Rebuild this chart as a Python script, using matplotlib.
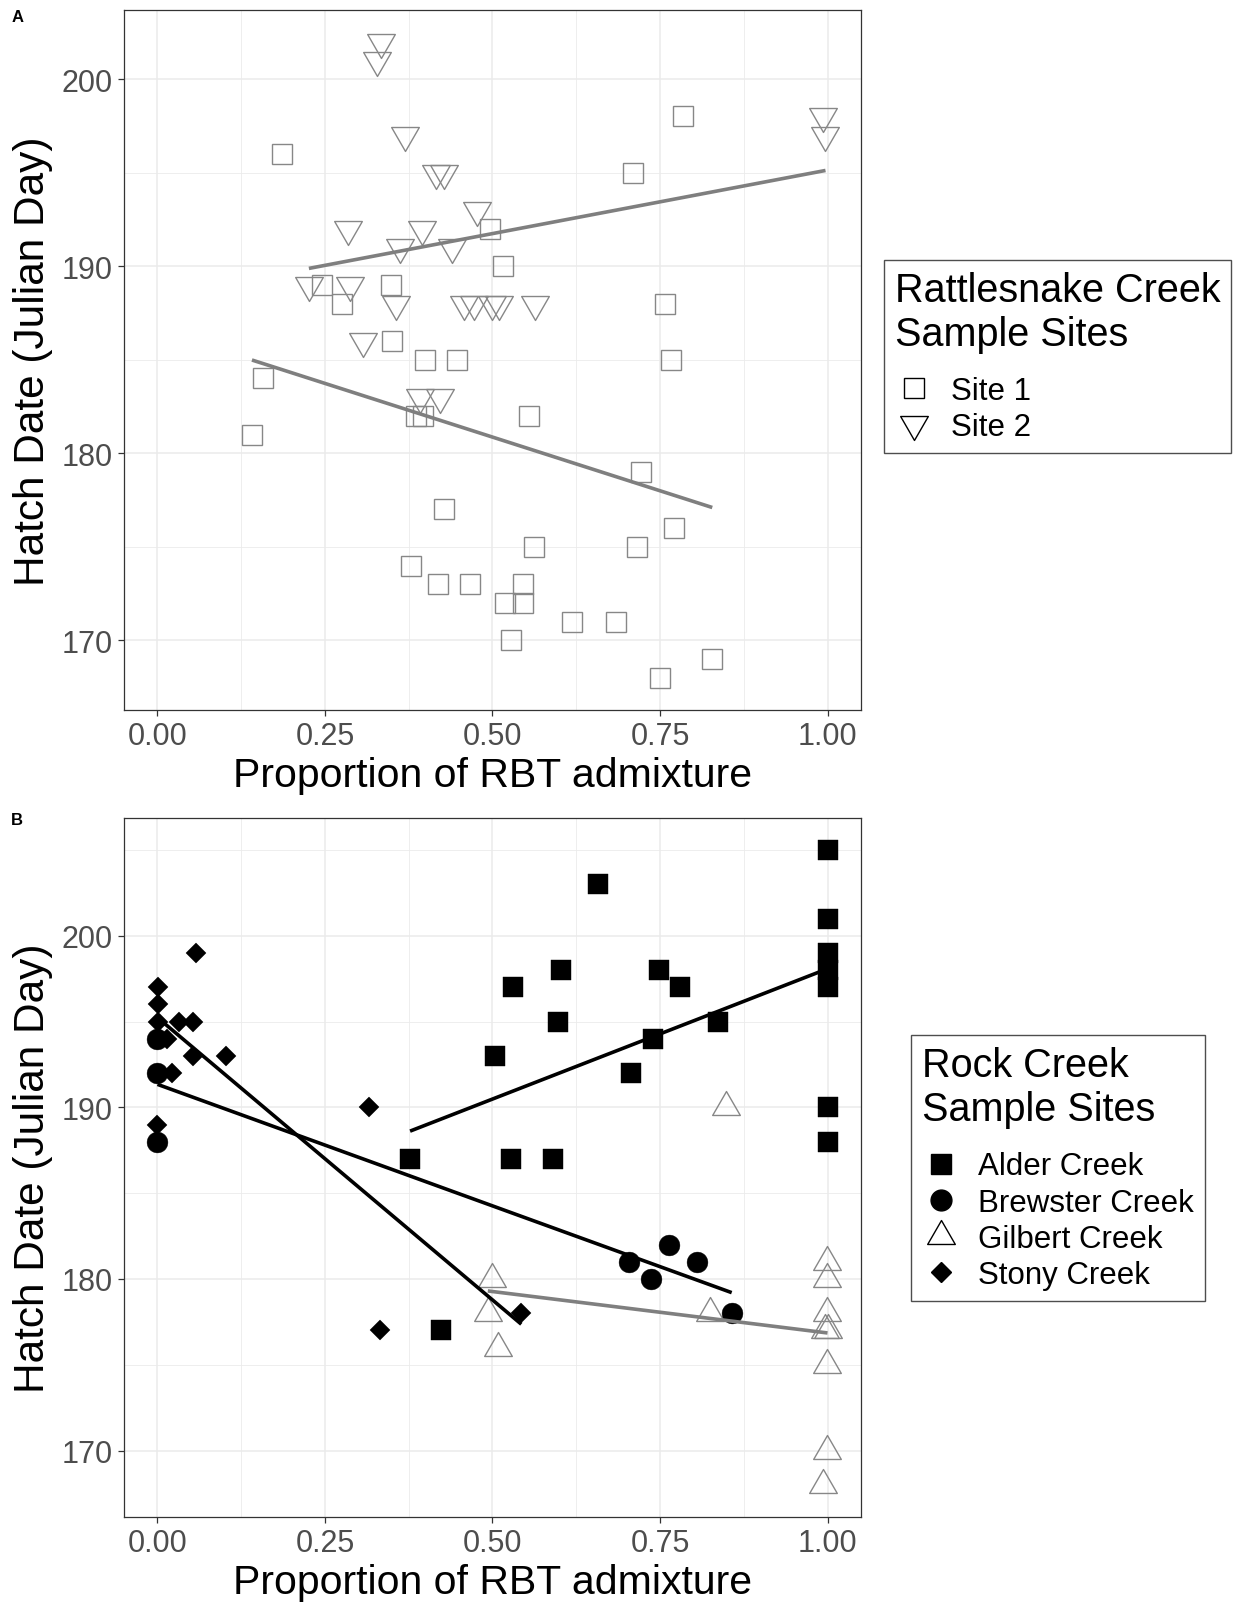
import numpy as np
import matplotlib.pyplot as plt
from matplotlib.path import Path
from matplotlib.lines import Line2D
from matplotlib.ticker import MultipleLocator

plt.rcParams["font.family"] = ["Liberation Sans", "DejaVu Sans"]

# ----- data: panel A (Rattlesnake Creek) -------------------------------------
site1_x = [0.186, 0.246, 0.276, 0.348, 0.350, 0.399, 0.447, 0.496, 0.516, 0.710,
           0.785, 0.757, 0.766, 0.157, 0.141, 0.386, 0.396, 0.428, 0.378, 0.418,
           0.466, 0.518, 0.545, 0.546, 0.528, 0.554, 0.562, 0.618, 0.684, 0.716,
           0.722, 0.771, 0.750, 0.828]
site1_y = [196, 189, 188, 189, 186, 185, 185, 192, 190, 195,
           198, 188, 185, 184, 181, 182, 182, 177, 174, 173,
           173, 172, 172, 173, 170, 182, 175, 171, 171, 175,
           179, 176, 168, 169]

site2_x = [0.334, 0.327, 0.370, 0.416, 0.428, 0.477, 0.284, 0.395, 0.362, 0.440,
           0.226, 0.288, 0.356, 0.458, 0.473, 0.499, 0.510, 0.564, 0.306, 0.392,
           0.421, 0.993, 0.997]
site2_y = [202, 201, 197, 195, 195, 193, 192, 192, 191, 191,
           189, 189, 188, 188, 188, 188, 188, 188, 186, 183,
           183, 198, 197]

# ----- data: panel B (Rock Creek) --------------------------------------------
alder_x = [1.0, 1.0, 1.0, 1.0, 1.0, 1.0, 1.0, 0.657, 0.602, 0.531, 0.749, 0.780,
           0.598, 0.837, 0.740, 0.503, 0.707, 0.528, 0.590, 0.377, 0.423]
alder_y = [205, 201, 199, 198, 197, 190, 188, 203, 198, 197, 198, 197,
           195, 195, 194, 193, 192, 187, 187, 187, 177]

brewster_x = [0.0, 0.0, 0.0, 0.704, 0.763, 0.736, 0.805, 0.857]
brewster_y = [194, 192, 188, 181, 182, 180, 181, 178]

gilbert_x = [0.848, 0.499, 0.493, 0.508, 0.825, 0.999, 0.999, 0.999, 0.997, 1.0,
             0.999, 0.999, 0.994]
gilbert_y = [190, 180, 178, 176, 178, 181, 180, 178, 177, 177, 175, 170, 168]

stony_x = [0.058, 0.001, 0.001, 0.001, 0.032, 0.053, 0.014, 0.053, 0.103, 0.022,
           0.0, 0.315, 0.332, 0.543]
stony_y = [199, 197, 196, 195, 195, 195, 194, 193, 193, 192, 189, 190, 177, 178]

x_ticks = [0.0, 0.25, 0.5, 0.75, 1.0]
x_ticklabels = ["0.00", "0.25", "0.50", "0.75", "1.00"]

# ----- style -----------------------------------------------------------------
GREY_PT = "#878787"
GREY_LN = "#7f7f7f"
GRID = "#ebebeb"
BORDER = "#333333"
TICKTXT = "#4d4d4d"

s3 = np.sqrt(3)
TRI_UP = Path([(0, 2 / s3), (-1, -1 / s3), (1, -1 / s3), (0, 2 / s3)],
              [Path.MOVETO, Path.LINETO, Path.LINETO, Path.CLOSEPOLY])
TRI_DOWN = Path([(0, -2 / s3), (-1, 1 / s3), (1, 1 / s3), (0, -2 / s3)],
                [Path.MOVETO, Path.LINETO, Path.LINETO, Path.CLOSEPOLY])


def fit_line(ax, x, y, color):
    x = np.asarray(x, float); y = np.asarray(y, float)
    b, a = np.polyfit(x, y, 1)
    xs = np.array([x.min(), x.max()])
    ax.plot(xs, a + b * xs, color=color, lw=2.6, zorder=4, solid_capstyle="butt")


def style_axes(ax, ylim, yticks):
    ax.set_xlim(-0.05, 1.05)
    ax.set_ylim(*ylim)
    ax.set_xticks(x_ticks)
    ax.set_xticklabels(x_ticklabels)
    ax.xaxis.set_minor_locator(MultipleLocator(0.125))
    ax.set_yticks(yticks)
    ax.yaxis.set_minor_locator(MultipleLocator(5))
    ax.grid(True, which="major", color=GRID, lw=1.1, zorder=0)
    ax.grid(True, which="minor", color=GRID, lw=0.6, zorder=0)
    ax.set_axisbelow(True)
    for sp in ax.spines.values():
        sp.set_color(BORDER); sp.set_linewidth(0.9)
    ax.tick_params(which="major", length=4, width=0.9, color=BORDER,
                   labelsize=22, labelcolor=TICKTXT, pad=4)
    ax.tick_params(which="minor", length=0)
    ax.set_xlabel("Proportion of RBT admixture", fontsize=29.5, labelpad=4)
    ax.set_ylabel("Hatch Date (Julian Day)", fontsize=30.5, labelpad=6)


def make_legend(handles, labels, title, anchor):
    leg = fig.legend(handles, labels, loc="center left", bbox_to_anchor=anchor,
                     title=title, fontsize=22.5, title_fontsize=28.5, frameon=True,
                     fancybox=False, edgecolor="#222222", alignment="left",
                     handletextpad=0.6, handlelength=1.2, labelspacing=0.2,
                     borderpad=0.35, borderaxespad=0)
    leg.get_frame().set_linewidth(1.0)
    leg._legend_box.sep = 17  # extra gap between title and keys
    return leg


fig = plt.figure(figsize=(12.41, 16.08), dpi=100)
axA = fig.add_axes([0.0999, 0.558, 0.5939, 0.4353])
axB = fig.add_axes([0.0999, 0.0562, 0.5939, 0.4343])

# ----- panel A ---------------------------------------------------------------
axA.plot(site1_x, site1_y, ls="none", marker="s", ms=14.4, mfc="none",
         mec=GREY_PT, mew=1.0, zorder=3)
axA.plot(site2_x, site2_y, ls="none", marker=TRI_DOWN, ms=23, mfc="none",
         mec=GREY_PT, mew=1.0, zorder=3)
fit_line(axA, site1_x, site1_y, GREY_LN)
fit_line(axA, site2_x, site2_y, GREY_LN)
style_axes(axA, (166.3, 203.7), [170, 180, 190, 200])

hA = [Line2D([], [], ls="none", marker="s", ms=14.4, mfc="none", mec="black", mew=1.0),
      Line2D([], [], ls="none", marker=TRI_DOWN, ms=23, mfc="none", mec="black", mew=1.0)]
make_legend(hA, ["Site 1", "Site 2"], "Rattlesnake Creek\nSample Sites", (0.7123, 0.7777))

# ----- panel B ---------------------------------------------------------------
axB.plot(gilbert_x, gilbert_y, ls="none", marker=TRI_UP, ms=23, mfc="none",
         mec=GREY_PT, mew=1.0, zorder=3)
axB.plot(alder_x, alder_y, ls="none", marker="s", ms=14.5, mfc="black",
         mec="black", mew=0.3, zorder=3)
axB.plot(brewster_x, brewster_y, ls="none", marker="o", ms=15, mfc="black",
         mec="black", mew=0.3, zorder=3)
axB.plot(stony_x, stony_y, ls="none", marker="D", ms=10.2, mfc="black",
         mec="black", mew=0.3, zorder=3)
fit_line(axB, alder_x, alder_y, "black")
fit_line(axB, brewster_x, brewster_y, "black")
fit_line(axB, gilbert_x, gilbert_y, GREY_LN)
fit_line(axB, stony_x, stony_y, "black")
style_axes(axB, (166.15, 206.85), [170, 180, 190, 200])

hB = [Line2D([], [], ls="none", marker="s", ms=14.5, mfc="black", mec="black"),
      Line2D([], [], ls="none", marker="o", ms=15, mfc="black", mec="black"),
      Line2D([], [], ls="none", marker=TRI_UP, ms=23, mfc="none", mec="black", mew=1.0),
      Line2D([], [], ls="none", marker="D", ms=10.2, mfc="black", mec="black")]
make_legend(hB, ["Alder Creek", "Brewster Creek", "Gilbert Creek", "Stony Creek"],
            "Rock Creek\nSample Sites", (0.734, 0.273))

fig.text(0.009, 0.989, "A", fontsize=12, fontweight="bold", va="center")
fig.text(0.009, 0.490, "B", fontsize=12, fontweight="bold", va="center")

fig.savefig("out.png", dpi=100)
